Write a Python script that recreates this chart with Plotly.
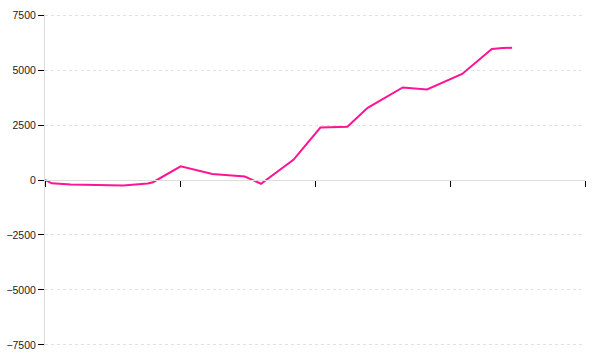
import plotly.graph_objects as go

# Data
x_values = [0, 0.5, 1.9, 4.1, 5.8, 7.6, 8.0, 10.05, 12.4, 14.8, 16.0, 18.4, 20.4, 22.4, 23.9, 26.5, 28.3, 30.9, 33.1, 33.9, 34.6]
y_values = [0, -150, -210, -250, -250, -160, -100, 625, 270, 160, -170, 920, 2385, 2425, 3280, 4210, 4120, 4825, 5955, 6000, 6015]

x_ticks = [0, 10, 20, 30, 40]
y_ticks = [-7500, -5000, -2500, 0, 2500, 5000, 7500]
y_tick_labels = ["\u22127500", "\u22125000", "\u22122500", "0", "2500", "5000", "7500"]

fig = go.Figure()
fig.add_trace(go.Scatter(
    x=x_values, y=y_values, mode="lines",
    line=dict(color="#ff1493", width=2),
    hoverinfo="skip", showlegend=False,
))

fig.update_layout(
    width=600, height=360,
    margin=dict(l=45, r=15, t=14, b=14),
    paper_bgcolor="white", plot_bgcolor="white",
    font=dict(family="Liberation Sans, Arial, sans-serif", size=10.5, color="#222"),
    xaxis=dict(
        range=[0, 40], tickvals=x_ticks, showticklabels=False,
        showgrid=False, zeroline=False, automargin=False,
        showline=True, linecolor="#dddddd", linewidth=1,
        ticks="outside", ticklen=6, tickcolor="black", tickwidth=1,
        anchor="free", position=0.5,
    ),
    xaxis2=dict(
        range=[0, 40], tickvals=x_ticks, showticklabels=False,
        showgrid=False, zeroline=False, showline=False, automargin=False,
        ticks="inside", ticklen=3, tickcolor="black", tickwidth=1,
        anchor="free", position=0.5, overlaying="x",
    ),
    yaxis=dict(
        range=[-7550, 7550], tickvals=y_ticks, ticktext=y_tick_labels,
        showgrid=True, gridcolor="#e2e2e2", griddash="dot", gridwidth=1,
        zeroline=False, automargin=False,
        showline=True, linecolor="#dddddd", linewidth=1,
        ticks="outside", ticklen=6, tickcolor="black", tickwidth=1,
    ),
)

fig.write_html("out.html")
